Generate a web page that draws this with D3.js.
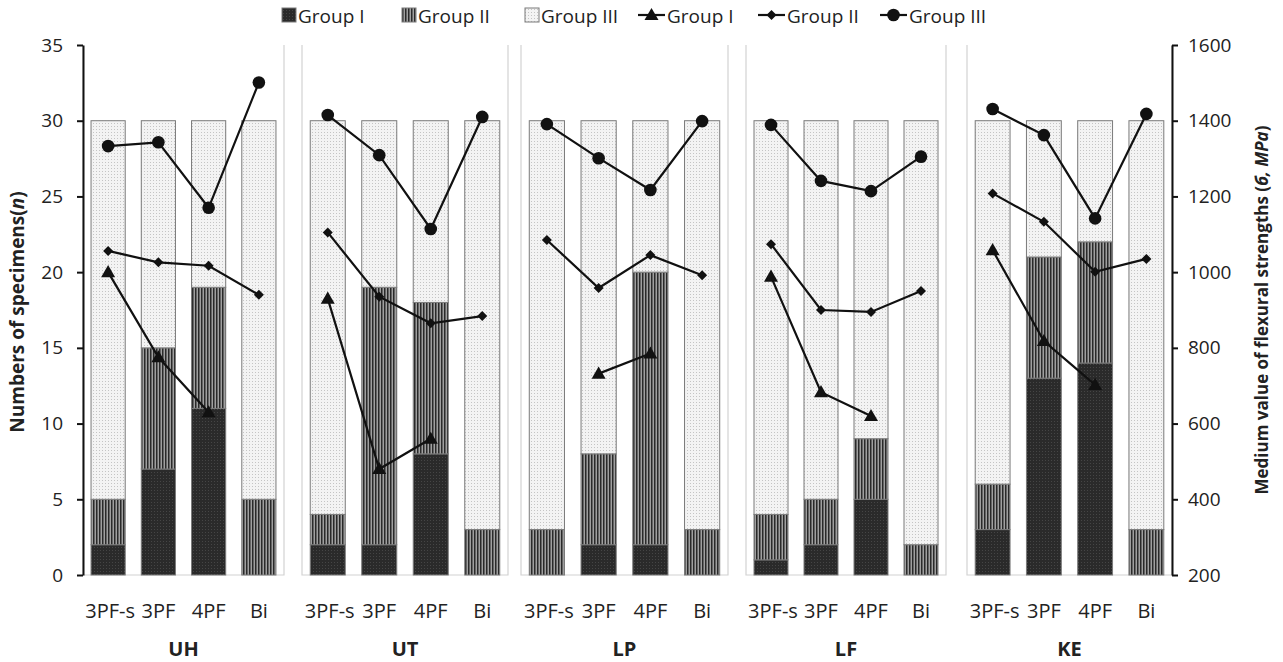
<!DOCTYPE html>
<html>
<head>
<meta charset="utf-8">
<script src="https://cdn.jsdelivr.net/npm/d3@7"></script>
<style>
  body { margin: 0; background: #fff; }
  text { font-family: "Open Sans", sans-serif; fill: #222; }
</style>
</head>
<body>
<svg id="chart"></svg>
<script>
// chart values
const panels = ['UH', 'UT', 'LP', 'LF', 'KE'];
const categories = ['3PF-s', '3PF', '4PF', 'Bi'];
const groupNames = ['Group I', 'Group II', 'Group III'];

// numbers of specimens per panel and test, stacked I / II / III
const countI = [[2, 7, 11, 0], [2, 2, 8, 0], [0, 2, 2, 0], [1, 2, 5, 0], [3, 13, 14, 0]];
const countII = [[3, 8, 8, 5], [2, 17, 10, 3], [3, 6, 18, 3], [3, 3, 4, 2], [3, 8, 8, 3]];
const countIII = [[25, 15, 11, 25], [26, 11, 12, 27], [27, 22, 10, 27], [26, 25, 21, 28], [24, 9, 8, 27]];

// medium flexural strength (MPa), null = no value
const strengthI = [[1000, 775, 630, null], [930, 480, 560, null], [null, 732, 785, null], [988, 683, 620, null], [1058, 818, 702, null]];
const strengthII = [[1056, 1026, 1017, 940], [1105, 935, 865, 884], [1085, 958, 1045, 992], [1074, 900, 895, 950], [1208, 1133, 1001, 1035]];
const strengthIII = [[1333, 1343, 1170, 1501], [1415, 1309, 1114, 1410], [1391, 1301, 1217, 1399], [1389, 1241, 1214, 1305], [1431, 1362, 1142, 1418]];

const leftTicks = [0, 5, 10, 15, 20, 25, 30, 35];
const rightTicks = [200, 400, 600, 800, 1000, 1200, 1400, 1600];

const width = 1283;
const height = 662;
const plotTop = 45;
const plotBottom = 575;
// left / right edge of each panel box
const panelEdges = [[83, 284], [302, 508], [521, 728], [746, 946], [967, 1172]];

const svg = d3.select('#chart')
    .attr('width', width)
    .attr('height', height);

const defs = svg.append('defs');

const patI = defs.append('pattern')
    .attr('id', 'patI')
    .attr('patternUnits', 'userSpaceOnUse')
    .attr('width', 3).attr('height', 3);
patI.append('rect').attr('width', 3).attr('height', 3).attr('fill', '#2a2a2a');
patI.append('rect').attr('x', 1).attr('y', 1).attr('width', 1).attr('height', 1).attr('fill', '#454545');

const patII = defs.append('pattern')
    .attr('id', 'patII')
    .attr('patternUnits', 'userSpaceOnUse')
    .attr('width', 3).attr('height', 3);
patII.append('rect').attr('width', 3).attr('height', 3).attr('fill', '#a0a0a0');
patII.append('rect').attr('width', 1.5).attr('height', 3).attr('fill', '#2a2a2a');

const patIII = defs.append('pattern')
    .attr('id', 'patIII')
    .attr('patternUnits', 'userSpaceOnUse')
    .attr('width', 3).attr('height', 3);
patIII.append('rect').attr('width', 3).attr('height', 3).attr('fill', '#f3f3f3');
patIII.append('rect').attr('width', 1).attr('height', 1).attr('fill', '#c4c4c4');

const fills = ['url(#patI)', 'url(#patII)', 'url(#patIII)'];
const counts = [countI, countII, countIII];
const strengths = [strengthI, strengthII, strengthIII];
const symbols = [
    d3.symbol().type(d3.symbolTriangle).size(85),
    d3.symbol().type(d3.symbolSquare).size(50),
    d3.symbol().type(d3.symbolCircle).size(125),
];
// squares are turned 45 degrees to give the diamond marker
const markerRotate = [0, 45, 0];
const markerShift = [1, 0, 0];

const yLeft = d3.scaleLinear().domain([0, 35]).range([plotBottom, plotTop]);
const yRight = d3.scaleLinear().domain([200, 1600]).range([plotBottom, plotTop]);

panels.forEach((name, p) => {
    const [x0, x1] = panelEdges[p];
    const x = d3.scaleBand()
        .domain(categories)
        .range([x0, x1])
        .paddingInner(0.32)
        .paddingOuter(0.16);

    const g = svg.append('g').attr('class', 'panel');

    // light grey panel box
    g.append('path')
        .attr('d', `M${x0},${plotTop}V${plotBottom}H${x1}V${plotTop}`)
        .attr('fill', 'none')
        .attr('stroke', '#d2d2d2')
        .attr('stroke-width', 1.2);

    // stacked bars
    const rows = categories.map((c, i) => {
        let acc = 0;
        return counts.map((cnt, k) => {
            const seg = { cat: c, k: k, y0: acc, y1: acc + cnt[p][i] };
            acc += cnt[p][i];
            return seg;
        });
    }).flat().filter((d) => d.y1 > d.y0);

    g.selectAll('.bar')
        .data(rows)
        .enter()
        .append('rect')
        .attr('class', 'bar')
        .attr('x', (d) => x(d.cat))
        .attr('width', x.bandwidth())
        .attr('y', (d) => yLeft(d.y1))
        .attr('height', (d) => yLeft(d.y0) - yLeft(d.y1))
        .attr('fill', (d) => fills[d.k])
        .attr('stroke', '#7a7a7a')
        .attr('stroke-width', 1);

    // strength lines
    strengths.forEach((s, k) => {
        const pts = categories.map((c, i) => ({ cat: c, v: s[p][i] }));
        const line = d3.line()
            .defined((d) => d.v !== null)
            .x((d) => x(d.cat) + x.bandwidth() / 2)
            .y((d) => yRight(d.v));
        g.append('path')
            .datum(pts)
            .attr('d', line)
            .attr('fill', 'none')
            .attr('stroke', '#111')
            .attr('stroke-width', 2.2);
        g.selectAll(`.m${k}`)
            .data(pts.filter((d) => d.v !== null))
            .enter()
            .append('path')
            .attr('class', `m${k}`)
            .attr('transform', (d) => `translate(${x(d.cat) + x.bandwidth() / 2},${yRight(d.v) + markerShift[k]}) rotate(${markerRotate[k]})`)
            .attr('d', symbols[k])
            .attr('fill', '#111');
    });

    // category labels
    g.selectAll('.cat')
        .data(categories)
        .enter()
        .append('text')
        .attr('class', 'cat')
        .attr('x', (d) => x(d) + x.bandwidth() / 2 + (d === '3PF-s' ? 2 : 0))
        .attr('y', 618)
        .attr('text-anchor', 'middle')
        .style('font-size', '20px')
        .text((d) => d);

    g.append('text')
        .attr('x', (x0 + x1) / 2)
        .attr('y', 656)
        .attr('text-anchor', 'middle')
        .style('font-size', '20px')
        .style('font-weight', 'bold')
        .text(name);
});

// left axis
const axisL = svg.append('g')
    .attr('transform', `translate(${panelEdges[0][0]},0)`)
    .call(d3.axisLeft(yLeft).tickValues(leftTicks).tickSize(6).tickPadding(14).tickSizeOuter(0));
axisL.select('.domain').attr('stroke', '#111').attr('stroke-width', 2);
axisL.selectAll('.tick line').attr('stroke', '#111').attr('stroke-width', 2);
axisL.selectAll('.tick text').style('font-size', '19px').attr('fill', '#222');

// right axis
const axisR = svg.append('g')
    .attr('transform', `translate(${panelEdges[4][1]},0)`)
    .call(d3.axisRight(yRight).tickValues(rightTicks).tickFormat(d3.format('d'))
        .tickSize(6).tickPadding(10).tickSizeOuter(0));
axisR.select('.domain').attr('stroke', '#111').attr('stroke-width', 2);
axisR.selectAll('.tick line').attr('stroke', '#111').attr('stroke-width', 2);
axisR.selectAll('.tick text').style('font-size', '19px').attr('fill', '#222');

// axis titles
svg.append('text')
    .attr('transform', 'translate(24,312) rotate(-90)')
    .attr('text-anchor', 'middle')
    .style('font-size', '19px')
    .style('font-weight', 'bold')
    .html('Numbers of specimens(<tspan font-style="italic">n</tspan>)');

svg.append('text')
    .attr('transform', 'translate(1268,310) rotate(-90)')
    .attr('text-anchor', 'middle')
    .style('font-size', '17px')
    .style('font-weight', 'bold')
    .html('Medium value of flexural strengths (<tspan font-style="italic">б, MPa</tspan>)');

// legend
const legendBars = [282, 402, 525];
const legendLines = [638, 758, 880];
const legend = svg.append('g').attr('class', 'legend');

groupNames.forEach((n, k) => {
    legend.append('rect')
        .attr('x', legendBars[k]).attr('y', 8)
        .attr('width', 14).attr('height', 14)
        .attr('fill', fills[k])
        .attr('stroke', '#7a7a7a');
    legend.append('text')
        .attr('x', legendBars[k] + 16).attr('y', 23)
        .style('font-size', '19px')
        .text(n);

    legend.append('line')
        .attr('x1', legendLines[k]).attr('x2', legendLines[k] + 27)
        .attr('y1', 15).attr('y2', 15)
        .attr('stroke', '#111').attr('stroke-width', 2.2);
    legend.append('path')
        .attr('transform', `translate(${legendLines[k] + 13.5},${15 + markerShift[k]}) rotate(${markerRotate[k]})`)
        .attr('d', symbols[k])
        .attr('fill', '#111');
    legend.append('text')
        .attr('x', legendLines[k] + 29).attr('y', 23)
        .style('font-size', '19px')
        .text(n);
});
</script>
</body>
</html>
